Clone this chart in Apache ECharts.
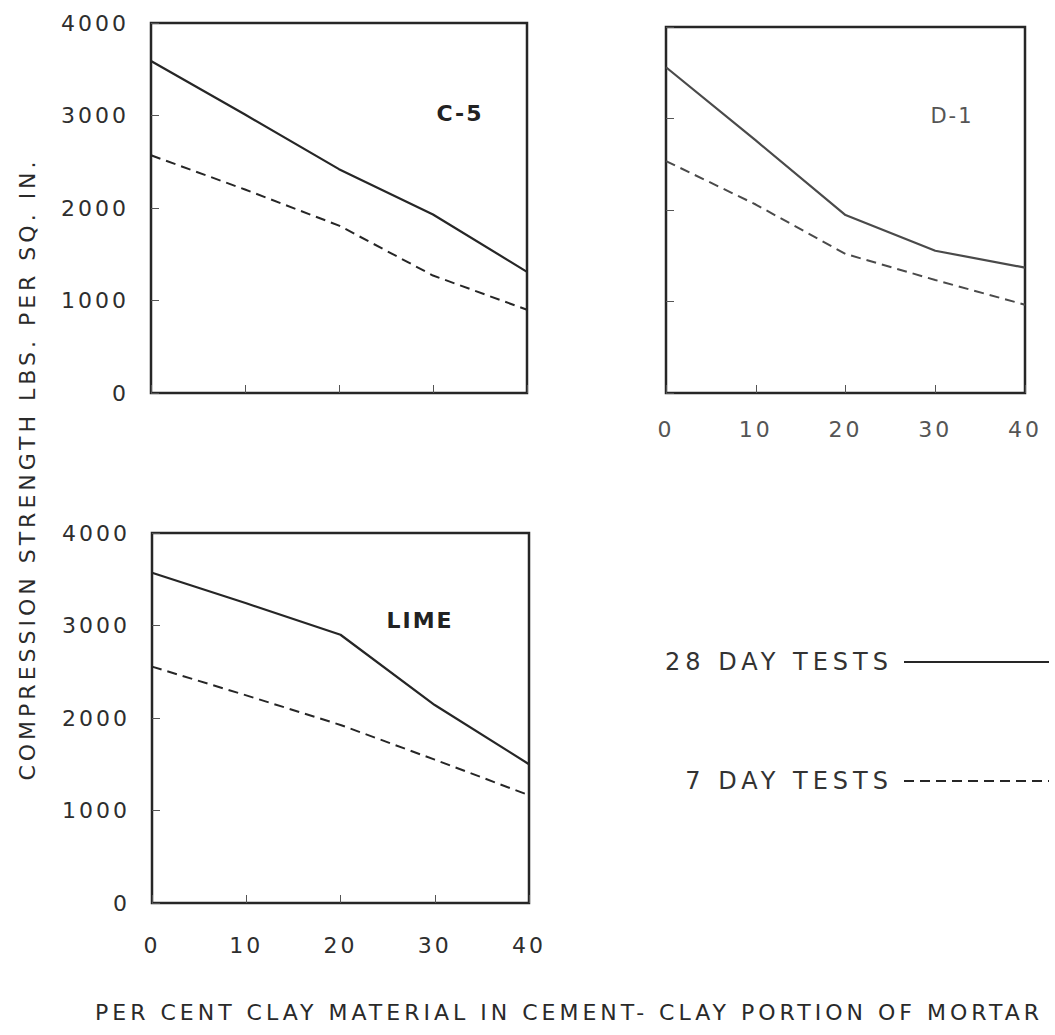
<!DOCTYPE html>
<html>
<head>
<meta charset="utf-8">
<script src="https://cdn.jsdelivr.net/npm/echarts@6/dist/echarts.min.js"></script>
<style>
  html, body { margin: 0; padding: 0; background: #ffffff; }
  #chart { width: 1055px; height: 1035px; }
</style>
</head>
<body>
<div id="chart"></div>
<script>
// Clay content of the cement-clay portion (per cent) and strength axis ticks (psi)
const clayPct = [0, 10, 20, 30, 40];
const strengthTicks = [0, 1000, 2000, 3000, 4000];

// Compression strength, lbs. per sq. in.
const c5Day28 = [3590, 3010, 2420, 1930, 1310];
const c5Day7 = [2570, 2200, 1810, 1270, 900];
const d1Day28 = [3560, 2760, 1945, 1555, 1370];
const d1Day7 = [2535, 2060, 1520, 1235, 965];
const limeDay28 = [3570, 3240, 2900, 2140, 1500];
const limeDay7 = [2555, 2245, 1925, 1550, 1165];

const panelNames = ['C-5', 'D-1', 'LIME'];
const seriesNames = ['28 DAY TESTS', '7 DAY TESTS'];
const yTitle = 'COMPRESSION STRENGTH LBS. PER SQ. IN.';
const xTitle = 'PER CENT CLAY MATERIAL IN CEMENT- CLAY PORTION OF MORTAR';

const FONT = '"DejaVu Sans", "Liberation Sans", sans-serif';
const INK = '#262626';
const INK_LIGHT = '#4a4a4a';

const panelData = [
  { d28: c5Day28, d7: c5Day7, ink: INK },
  { d28: d1Day28, d7: d1Day7, ink: INK_LIGHT },
  { d28: limeDay28, d7: limeDay7, ink: INK }
];

const grids = [
  { left: 151, top: 23, width: 376, height: 370 },
  { left: 666, top: 27, width: 359, height: 366 },
  { left: 152, top: 533, width: 377, height: 370 }
].map(g => Object.assign({
  show: true, borderWidth: 2.5, borderColor: INK, backgroundColor: 'transparent'
}, g));

const pairs = ys => clayPct.map((x, i) => [x, ys[i]]);

const labelBase = {
  fontFamily: FONT, fontSize: 22, color: '#2e2e2e',
  formatter: v => String(v)
};

const xAxes = [0, 1, 2].map(i => ({
  gridIndex: i,
  type: 'value',
  min: clayPct[0],
  max: clayPct[clayPct.length - 1],
  interval: clayPct[1] - clayPct[0],
  axisLine: { show: false },
  axisTick: { show: true, inside: true, length: 8, lineStyle: { color: '#555', width: 1 } },
  splitLine: { show: false },
  axisLabel: Object.assign({ show: i !== 0, margin: i === 1 ? 25 : 31 }, labelBase,
    i === 1 ? { color: '#555' } : {})
}));

const yAxes = [0, 1, 2].map(i => ({
  gridIndex: i,
  type: 'value',
  min: strengthTicks[0],
  max: strengthTicks[strengthTicks.length - 1],
  interval: strengthTicks[1] - strengthTicks[0],
  axisLine: { show: false },
  axisTick: { show: true, inside: true, length: 8, lineStyle: { color: '#555', width: 1 } },
  splitLine: { show: false },
  axisLabel: Object.assign({ show: i !== 1, margin: 22 }, labelBase)
}));

const series = [];
panelData.forEach((p, i) => {
  series.push({
    name: seriesNames[0], type: 'line', xAxisIndex: i, yAxisIndex: i,
    data: pairs(p.d28), symbol: 'none', silent: true,
    lineStyle: { color: p.ink, width: 2.2, type: 'solid' },
    itemStyle: { color: p.ink }
  });
  series.push({
    name: seriesNames[1], type: 'line', xAxisIndex: i, yAxisIndex: i,
    data: pairs(p.d7), symbol: 'none', silent: true,
    lineStyle: { color: p.ink, width: 2, type: [10, 6] },
    itemStyle: { color: p.ink }
  });
});

const legendText = { fontFamily: FONT, fontSize: 24, color: '#333', padding: [0, 6, 0, 0] };
const legends = [
  { data: [seriesNames[0]], right: 5, top: 650 },
  { data: [seriesNames[1]], right: 5, top: 769 }
].map(l => Object.assign({
  orient: 'horizontal', align: 'right', itemWidth: 145, itemHeight: 14,
  selectedMode: false, textStyle: legendText, padding: 0,
  itemStyle: { opacity: 0 }
}, l));

const panelLabel = (text, x, y, extra) => ({
  type: 'text', x: x, y: y, silent: true,
  style: Object.assign({
    text: text, textAlign: 'center', textVerticalAlign: 'middle',
    fontFamily: FONT, fontSize: 22, fontWeight: 'bold', fill: '#222'
  }, extra || {})
});

const option = {
  animation: false,
  backgroundColor: '#ffffff',
  grid: grids,
  xAxis: xAxes,
  yAxis: yAxes,
  legend: legends,
  series: series,
  graphic: [
    panelLabel(panelNames[0], 460, 113),
    panelLabel(panelNames[1], 952, 116, { fontWeight: 'normal', fontSize: 21, fill: '#555' }),
    panelLabel(panelNames[2], 420, 620),
    {
      type: 'text', x: 27, y: 469, rotation: Math.PI / 2, silent: true,
      style: {
        text: yTitle, textAlign: 'center', textVerticalAlign: 'middle',
        fontFamily: FONT, fontSize: 22, fill: '#2a2a2a'
      }
    },
    {
      type: 'text', x: 569, y: 1012, silent: true,
      style: {
        text: xTitle, textAlign: 'center', textVerticalAlign: 'middle',
        fontFamily: FONT, fontSize: 22, fill: '#2a2a2a'
      }
    }
  ]
};

const dom = document.getElementById('chart');
const chart = echarts.init(dom, null, { renderer: 'svg' });
chart.setOption(option);

// Lettering-guide style: widen the spacing between characters of every label
function spaceLetters() {
  dom.querySelectorAll('text').forEach(t => {
    const s = t.textContent.trim();
    let ls = 4;
    if (/^\d+$/.test(s)) ls = 3;
    if (panelNames.indexOf(s) >= 0) ls = 2;
    if (seriesNames.indexOf(s) >= 0) ls = 5;
    t.style.letterSpacing = ls + 'px';
  });
}
spaceLetters();
chart.on('finished', spaceLetters);
</script>
</body>
</html>
